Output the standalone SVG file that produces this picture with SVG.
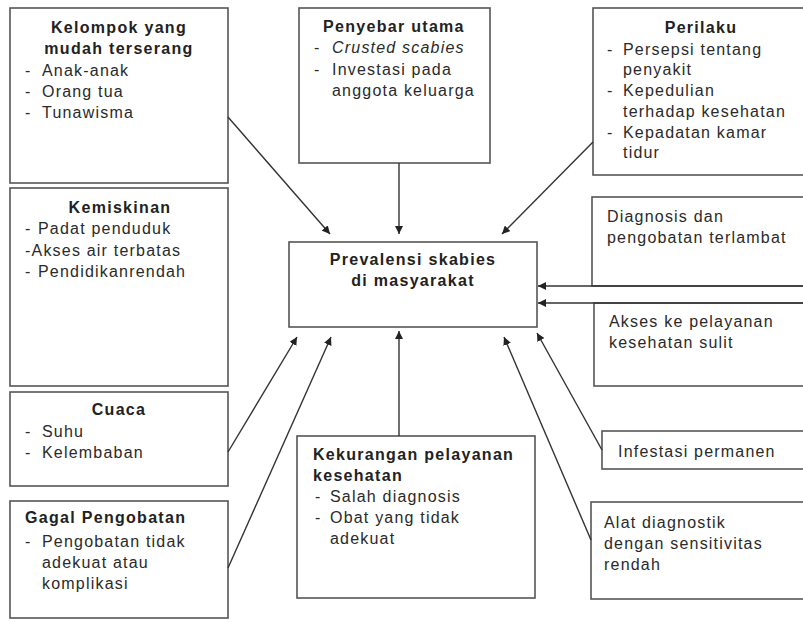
<svg xmlns="http://www.w3.org/2000/svg" width="803" height="622" viewBox="0 0 803 622">
<defs>
<style>
.box{fill:#fff;stroke:#555;stroke-width:1.6}
.t{font-family:"Liberation Sans",Arial,sans-serif;font-size:16px;fill:#2a2a2a;letter-spacing:1.2px}
.b{font-family:"Liberation Sans",Arial,sans-serif;font-size:16px;font-weight:bold;fill:#222;letter-spacing:1.3px}
.i{font-style:italic}
.c{text-anchor:middle}
.conn line{stroke:#333;stroke-width:1.4;marker-end:url(#ah)}
</style>
<marker id="ah" viewBox="0 0 10 10" refX="10" refY="5" markerWidth="8" markerHeight="8" markerUnits="userSpaceOnUse" orient="auto">
<path d="M0,0 L10,5 L0,10 z" fill="#222"/>
</marker>
</defs>
<rect width="803" height="622" fill="#fff"/>

<g id="kelompok">
<rect class="box" x="10" y="8" width="218" height="175"/>
<text class="b c" x="119" y="33">Kelompok yang</text>
<text class="b c" x="119" y="54">mudah terserang</text>
<text class="t" x="25" y="76">-</text><text class="t" x="42" y="76">Anak-anak</text>
<text class="t" x="25" y="97">-</text><text class="t" x="42" y="97">Orang tua</text>
<text class="t" x="25" y="118">-</text><text class="t" x="42" y="118">Tunawisma</text>
</g>

<g id="kemiskinan">
<rect class="box" x="10" y="188" width="218" height="198"/>
<text class="b c" x="120" y="213">Kemiskinan</text>
<text class="t" x="25" y="234">-</text><text class="t" x="38" y="234">Padat penduduk</text>
<text class="t" x="25" y="256">-Akses air terbatas</text>
<text class="t" x="25" y="277">-</text><text class="t" x="38" y="277">Pendidikanrendah</text>
</g>

<g id="cuaca">
<rect class="box" x="10" y="392" width="218" height="94"/>
<text class="b c" x="119" y="415">Cuaca</text>
<text class="t" x="25" y="437">-</text><text class="t" x="42" y="437">Suhu</text>
<text class="t" x="25" y="458">-</text><text class="t" x="42" y="458">Kelembaban</text>
</g>

<g id="gagal">
<rect class="box" x="10" y="501" width="218" height="117"/>
<text class="b" x="25" y="523">Gagal Pengobatan</text>
<text class="t" x="25" y="547">-</text><text class="t" x="42" y="547">Pengobatan tidak</text>
<text class="t" x="42" y="568">adekuat atau</text>
<text class="t" x="42" y="589">komplikasi</text>
</g>

<g id="penyebar">
<rect class="box" x="299" y="8" width="191" height="155"/>
<text class="b" x="323" y="32">Penyebar utama</text>
<text class="t" x="314" y="53">-</text><text class="t i" x="332" y="53">Crusted scabies</text>
<text class="t" x="314" y="75">-</text><text class="t" x="332" y="75">Investasi pada</text>
<text class="t" x="332" y="96">anggota keluarga</text>
</g>

<g id="perilaku">
<rect class="box" x="593" y="8" width="220" height="167"/>
<text class="b c" x="701" y="33">Perilaku</text>
<text class="t" x="607" y="55">-</text><text class="t" x="623" y="55">Persepsi tentang</text>
<text class="t" x="623" y="75">penyakit</text>
<text class="t" x="607" y="96">-</text><text class="t" x="623" y="96">Kepedulian</text>
<text class="t" x="623" y="117">terhadap kesehatan</text>
<text class="t" x="607" y="138">-</text><text class="t" x="623" y="138">Kepadatan kamar</text>
<text class="t" x="623" y="158">tidur</text>
</g>

<g id="prevalensi">
<rect class="box" x="289" y="242" width="248" height="85"/>
<text class="b c" x="413" y="265">Prevalensi skabies</text>
<text class="b c" x="413" y="286">di masyarakat</text>
</g>

<g id="diagnosis">
<rect class="box" x="592" y="197" width="220" height="89"/>
<text class="t" x="607" y="222">Diagnosis dan</text>
<text class="t" x="607" y="243">pengobatan terlambat</text>
</g>

<g id="akses">
<rect class="box" x="594" y="303" width="220" height="83"/>
<text class="t" x="609" y="327">Akses ke pelayanan</text>
<text class="t" x="609" y="348">kesehatan sulit</text>
</g>

<g id="infestasi">
<rect class="box" x="602" y="431" width="210" height="38"/>
<text class="t" x="618" y="457">Infestasi permanen</text>
</g>

<g id="alat">
<rect class="box" x="591" y="502" width="220" height="97"/>
<text class="t" x="604" y="528">Alat diagnostik</text>
<text class="t" x="604" y="549">dengan sensitivitas</text>
<text class="t" x="604" y="570">rendah</text>
</g>

<g id="kekurangan">
<rect class="box" x="297" y="436" width="238" height="162"/>
<text class="b" x="313" y="460">Kekurangan pelayanan</text>
<text class="b" x="313" y="481">kesehatan</text>
<text class="t" x="315" y="502">-</text><text class="t" x="330" y="502">Salah diagnosis</text>
<text class="t" x="315" y="523">-</text><text class="t" x="330" y="523">Obat yang tidak</text>
<text class="t" x="330" y="544">adekuat</text>
</g>

<g id="connectors" class="conn">
<line x1="228" y1="117" x2="330" y2="234"/>
<line x1="399" y1="163" x2="399" y2="234"/>
<line x1="593" y1="142" x2="502" y2="234"/>
<line x1="803" y1="286" x2="538" y2="286"/>
<line x1="803" y1="303" x2="538" y2="303"/>
<line x1="228" y1="452" x2="297" y2="337"/>
<line x1="228" y1="568" x2="331" y2="337"/>
<line x1="399" y1="436" x2="399" y2="331"/>
<line x1="602" y1="450" x2="537" y2="333"/>
<line x1="591" y1="540" x2="504" y2="337"/>
</g>
</svg>
